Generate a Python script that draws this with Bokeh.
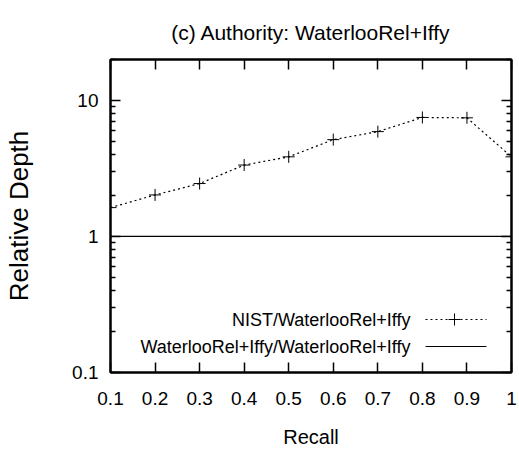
from bokeh.plotting import figure
from bokeh.models import FixedTicker, LinearAxis, LogAxis, Range1d, Label
from bokeh.embed import file_html
from bokeh.resources import INLINE
import math

# ---- data ----
recall = [0.1, 0.2, 0.3, 0.4, 0.5, 0.6, 0.7, 0.8, 0.9, 1.0]
nist_depth = [1.63, 2.02, 2.45, 3.35, 3.85, 5.15, 5.9, 7.5, 7.45, 3.85]
self_depth = [1.0, 1.0, 1.0, 1.0, 1.0, 1.0, 1.0, 1.0, 1.0, 1.0]
series_names = ["NIST/WaterlooRel+Iffy", "WaterlooRel+Iffy/WaterlooRel+Iffy"]
title_text = "(c) Authority: WaterlooRel+Iffy"
x_ticks = [0.1, 0.2, 0.3, 0.4, 0.5, 0.6, 0.7, 0.8, 0.9, 1.0]
x_tick_labels = ["0.1", "0.2", "0.3", "0.4", "0.5", "0.6", "0.7", "0.8", "0.9", "1"]
y_ticks = [0.1, 1, 10]
y_tick_labels = ["0.1", "1", "10"]
y_minor = [0.2, 0.3, 0.4, 0.5, 0.6, 0.7, 0.8, 0.9, 2, 3, 4, 5, 6, 7, 8, 9, 20]

FONT = "Liberation Sans"

W, H = 519, 453
L, R, T, B = 110, 8, 59, 81
X0, X1 = 0.1, 1.0
Y0, Y1 = 0.1, 20.0

p = figure(width=W, height=H, x_range=Range1d(X0, X1), y_range=Range1d(Y0, Y1),
           y_axis_type="log", output_backend="svg", toolbar_location=None,
           min_border_left=L, min_border_right=R, min_border_top=T, min_border_bottom=B,
           title=title_text)
p.title.align = "center"
p.title.text_font = FONT
p.title.text_font_size = "21px"
p.title.text_font_style = "normal"
p.title.text_color = "black"
p.title.offset = 0
p.title.standoff = 32
p.grid.visible = False
p.outline_line_color = "black"
p.outline_line_width = 2
p.background_fill_color = "white"
p.border_fill_color = "white"

xt = FixedTicker(ticks=x_ticks)
yt = FixedTicker(ticks=y_ticks, minor_ticks=y_minor)
x_over = dict(zip(x_ticks, x_tick_labels))
y_over = dict(zip(y_ticks, y_tick_labels))

def style(ax, show):
    ax.axis_line_width = 2
    ax.major_tick_in = 10
    ax.major_tick_out = 0
    ax.minor_tick_in = 5
    ax.minor_tick_out = 0
    ax.major_tick_line_width = 1.5
    ax.minor_tick_line_width = 1.5
    ax.major_label_text_font = FONT
    ax.major_label_text_font_size = "19px"
    ax.major_label_text_color = "black" if show else None
    ax.axis_label_text_font = FONT
    ax.axis_label_text_font_style = "normal"
    ax.axis_label_text_color = "black"

xa = p.xaxis[0]
xa.ticker = xt
xa.major_label_overrides = x_over
xa.axis_label = "Recall"
style(xa, True)
xa.axis_label_text_font_size = "20px"
xa.major_label_standoff = 19
xa.axis_label_standoff = 18

ya = p.yaxis[0]
ya.ticker = yt
ya.major_label_overrides = y_over
ya.axis_label = "Relative Depth"
style(ya, True)
ya.axis_label_text_font_size = "26px"
ya.major_label_standoff = 12
ya.axis_label_standoff = 35

top = LinearAxis(ticker=xt, major_label_overrides={t: "" for t in x_ticks})
style(top, False)
p.add_layout(top, "above")
right = LogAxis(ticker=yt, major_label_overrides={t: "" for t in y_ticks})
style(right, False)
p.add_layout(right, "right")

# series
p.line(recall, nist_depth, line_color="black", line_width=1.2, line_dash="2 3")
p.scatter(recall, nist_depth, marker="cross", size=12, line_color="black", line_width=1)
p.line(recall, self_depth, line_color="black", line_width=1.2)

# helpers for layout positions (pixels -> data coords)
fw = W - L - R
fh = H - T - B
def px2x(px):
    return X0 + (px - L) / fw * (X1 - X0)
def py2y(py):
    ly0, ly1 = math.log10(Y0), math.log10(Y1)
    return 10 ** (ly1 - (py - T) / fh * (ly1 - ly0))

# legend (gnuplot style: text right-aligned, sample to its right)
rows = [319, 346]
for i, (name, ry) in enumerate(zip(series_names, rows)):
    yv = py2y(ry)
    p.add_layout(Label(x=px2x(410), y=yv, text=name, text_align="right",
                       text_baseline="middle", text_font=FONT, text_font_size="18px",
                       text_color="black"))
    if i == 0:
        p.line([px2x(425), px2x(486)], [yv, yv], line_color="black", line_width=1.2, line_dash="2 3")
        p.scatter([px2x(454)], [yv], marker="cross", size=12, line_color="black", line_width=1)
    else:
        p.line([px2x(425), px2x(486)], [yv, yv], line_color="black", line_width=1.2)

open("out.html", "w").write(file_html(p, INLINE))
